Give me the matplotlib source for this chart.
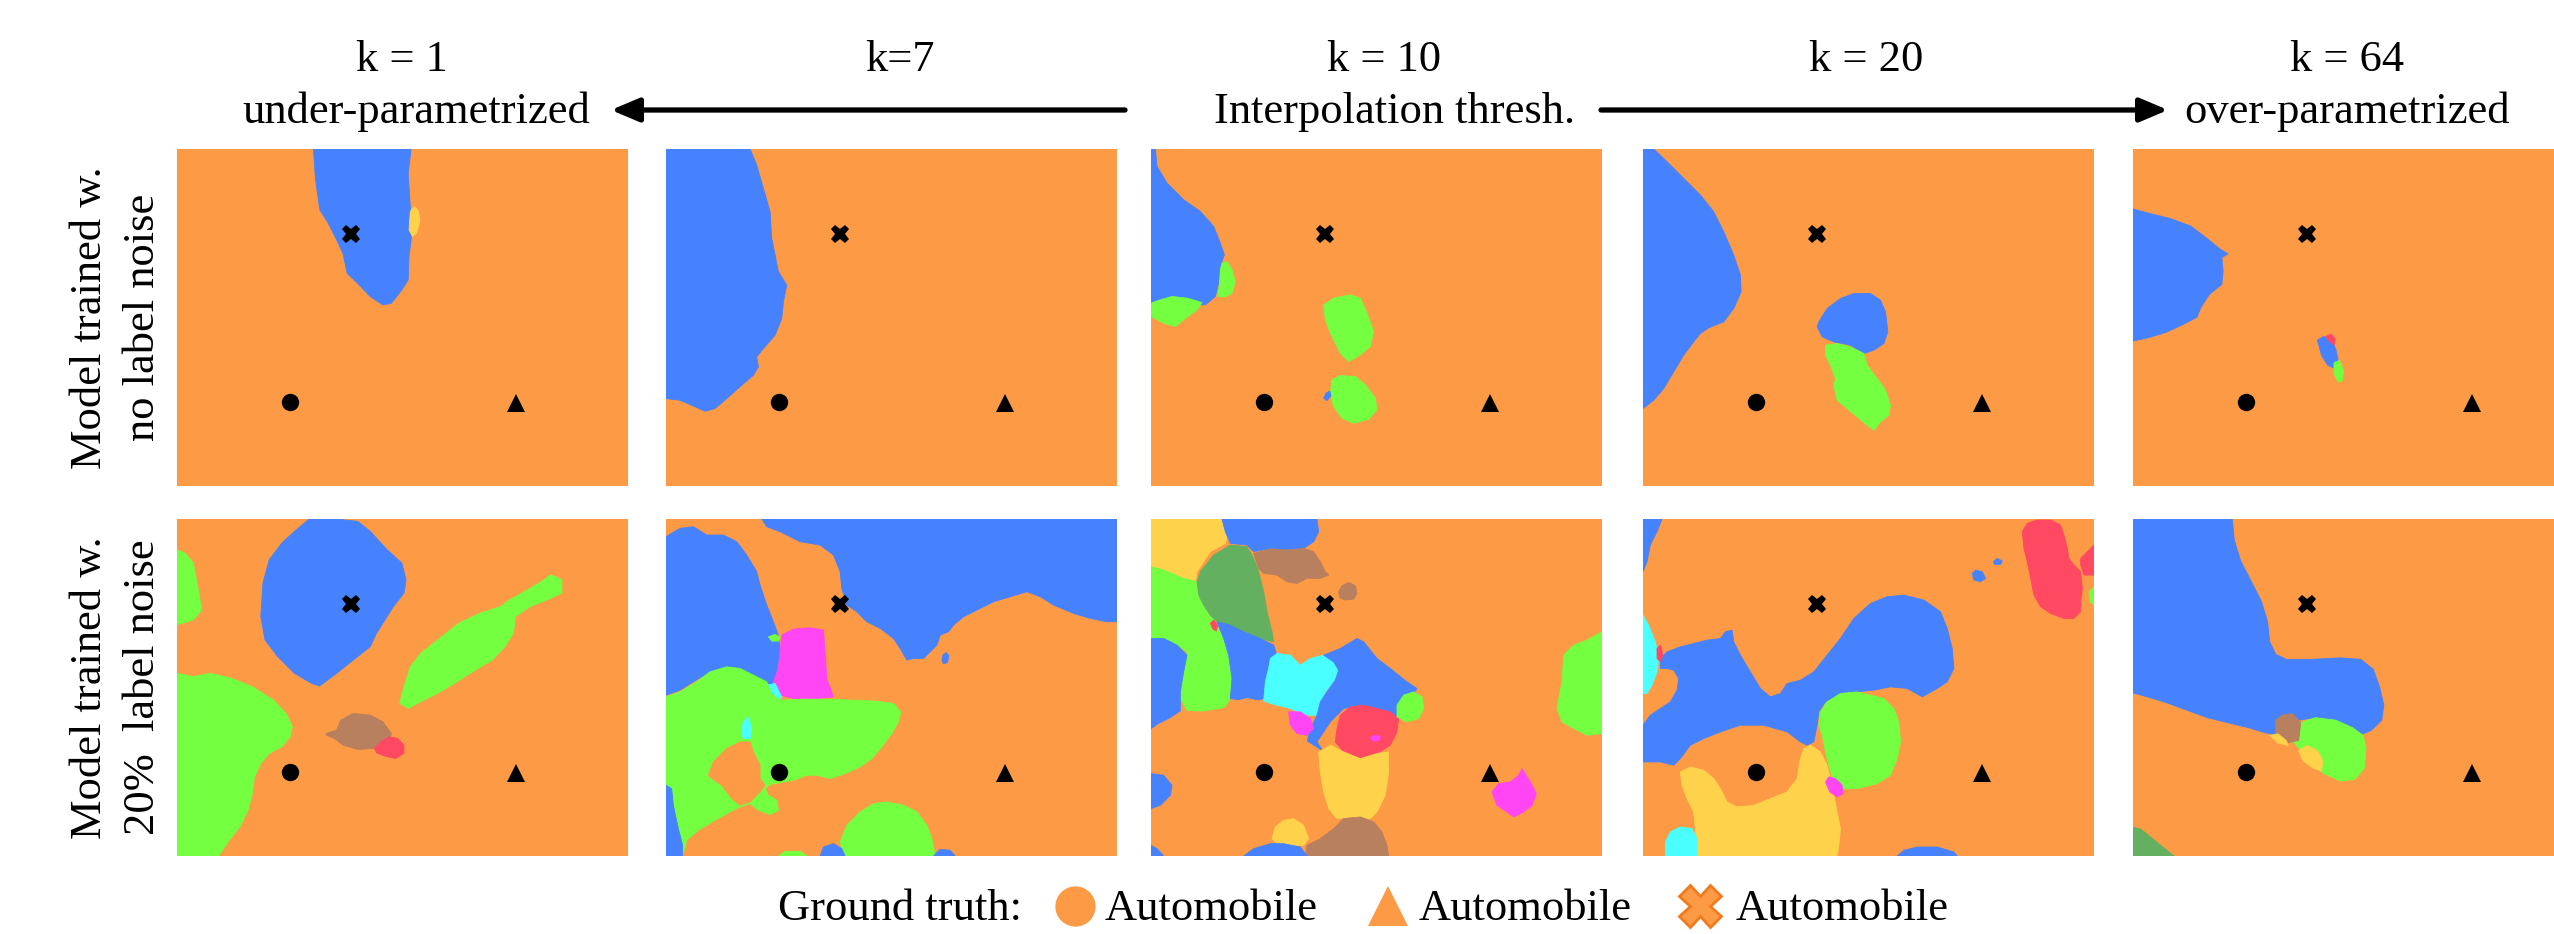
import matplotlib
matplotlib.use("Agg")
import matplotlib.pyplot as plt

# ---------------------------------------------------------------- data
COL_TITLES = ["k = 1", "k=7", "k = 10", "k = 20", "k = 64"]
REGIME_LABELS = ["under-parametrized", "Interpolation thresh.", "over-parametrized"]
ROW_LABELS = [("Model trained w.", "no label noise"), ("Model trained w.", "20%  label noise")]
LEGEND_TITLE = "Ground truth:"
LEGEND_LABELS = ["Automobile", "Automobile", "Automobile"]

PALETTE = {
    "orange": "#FD9A46", "blue": "#4682FE", "green": "#74FF41", "brown": "#B8805E",
    "red": "#FF4862", "magenta": "#FF45F4", "cyan": "#4AFFFF", "yellow": "#FFD24B",
    "dkgreen": "#63B060",
}

# data points (fraction of each panel, measured from top-left)
POINT_CIRCLE = (0.251, 0.752)
POINT_TRIANGLE = (0.751, 0.755)
POINT_CROSS = (0.386, 0.253)

# decision regions of each panel, in the reference image pixel frame of that panel
FRAME_K1_CLEAN = (421, 1492, 28, 1037)
K1_CLEAN = [
    ("blue", [(745, 28), (750, 120), (760, 210), (780, 250), (800, 300), (815, 340), (825, 400), (850, 430),
              (880, 470), (910, 495), (930, 490), (955, 450), (970, 420), (972, 350), (978, 290), (975, 200),
              (970, 100), (977, 28)]),
    ("yellow", [(975, 215), (985, 200), (995, 215), (998, 245), (990, 280), (980, 290), (972, 270)]),
]

FRAME_K7_CLEAN = (18, 1370, 12, 1022)
K7_CLEAN = [
    ("blue", [(18, 12), (270, 12), (290, 60), (310, 130), (330, 200), (335, 280), (345, 330), (355, 380),
              (380, 420), (370, 470), (365, 520), (345, 570), (310, 610), (290, 635), (295, 665), (280, 690),
              (245, 720), (200, 760), (165, 790), (135, 798), (95, 780), (60, 765), (18, 760)]),
]

FRAME_K10_CLEAN = (12, 1365, 18, 1028)
K10_CLEAN = [
    ("blue", [(12, 18), (25, 18), (30, 70), (60, 120), (110, 170), (160, 205), (200, 250), (220, 300),
              (232, 335), (220, 370), (215, 420), (205, 460), (175, 485), (12, 485)]),
    ("green", [(225, 360), (240, 355), (255, 380), (265, 415), (255, 450), (235, 462), (212, 460), (218, 420),
               (220, 380)]),
    ("green", [(12, 480), (40, 470), (75, 460), (120, 465), (165, 478), (150, 500), (110, 530), (85, 550),
               (50, 540), (12, 520)]),
    ("green", [(530, 485), (560, 465), (610, 455), (640, 465), (660, 510), (680, 565), (670, 610), (640, 635),
               (605, 655), (580, 630), (550, 570), (535, 530)]),
    ("green", [(555, 710), (580, 697), (625, 700), (655, 725), (685, 765), (690, 800), (665, 828), (620, 840),
               (585, 825), (560, 790), (550, 750)]),
    ("blue", [(530, 765), (537, 750), (548, 743), (552, 758), (540, 772)]),
]

FRAME_K20_CLEAN = (18, 1370, 12, 1022)
K20_CLEAN = [
    ("blue", [(18, 12), (50, 12), (90, 50), (140, 100), (190, 150), (230, 200), (260, 260), (290, 330),
              (310, 390), (312, 440), (290, 490), (260, 530), (215, 548), (190, 565), (170, 590), (140, 630),
              (110, 680), (80, 730), (50, 765), (18, 790)]),
    ("blue", [(545, 530), (570, 490), (610, 460), (650, 445), (700, 445), (730, 465), (745, 500), (752, 560),
              (740, 595), (710, 615), (680, 625), (640, 600), (590, 590), (555, 575), (540, 545)]),
    ("green", [(565, 600), (600, 595), (640, 605), (680, 625), (690, 660), (720, 700), (745, 735), (760, 780),
               (755, 810), (730, 830), (710, 855), (690, 840), (660, 815), (630, 790), (600, 765), (590, 720),
               (595, 700), (580, 660), (565, 630)]),
]

FRAME_K64_CLEAN = (561, 1647, 18, 683)
K64_CLEAN = [
    ("blue", [(556, 135), (600, 145), (650, 155), (700, 170), (740, 195), (770, 215), (790, 225), (775, 232),
              (778, 260), (775, 285), (745, 305), (725, 330), (715, 350), (680, 365), (640, 380), (600, 390),
              (556, 398)]),
    ("blue", [(1005, 395), (1020, 388), (1040, 395), (1050, 415), (1055, 435), (1045, 450), (1030, 445),
              (1015, 425)]),
    ("red", [(1025, 388), (1038, 383), (1048, 393), (1046, 405), (1032, 396)]),
    ("green", [(1045, 440), (1058, 435), (1068, 455), (1065, 475), (1055, 478), (1045, 462)]),
]

FRAME_K1_NOISY = (421, 1492, 58, 1067)
K1_NOISY = [
    ("blue", [(735, 58), (800, 58), (850, 65), (880, 95), (920, 150), (955, 190), (965, 240), (960, 280),
              (935, 320), (915, 360), (895, 400), (880, 440), (840, 480), (800, 520), (760, 558), (740, 550),
              (700, 520), (660, 470), (630, 420), (620, 350), (625, 250), (640, 180), (670, 130), (700, 95)]),
    ("green", [(421, 150), (440, 160), (460, 190), (470, 260), (480, 330), (460, 360), (421, 375)]),
    ("green", [(421, 520), (460, 530), (500, 520), (550, 535), (600, 560), (650, 600), (680, 640), (695, 680),
               (690, 710), (670, 740), (640, 760), (620, 790), (605, 830), (600, 880), (590, 930), (570, 980),
               (545, 1020), (520, 1067), (421, 1067)]),
    ("green", [(950, 610), (960, 560), (975, 500), (1000, 460), (1050, 410), (1090, 370), (1140, 340),
               (1190, 320), (1210, 300), (1240, 280), (1280, 250), (1310, 225), (1335, 240), (1335, 280),
               (1300, 300), (1260, 320), (1225, 350), (1220, 400), (1200, 440), (1170, 480), (1130, 510),
               (1080, 550), (1040, 580), (1000, 605), (970, 625)]),
    ("brown", [(775, 700), (800, 690), (810, 660), (840, 640), (880, 645), (910, 665), (930, 700), (925, 730),
               (890, 745), (850, 748), (815, 735), (795, 715), (775, 705)]),
    ("red", [(890, 745), (905, 725), (925, 710), (945, 715), (960, 735), (960, 760), (940, 775), (915, 768),
             (895, 758)]),
]

FRAME_K7_NOISY = (18, 1370, 22, 1032)
K7_NOISY = [
    ("blue", [(305, 22), (1370, 22), (1370, 330), (1340, 330), (1290, 320), (1240, 305), (1180, 280),
              (1140, 255), (1100, 240), (1050, 255), (1000, 270), (960, 290), (910, 315), (880, 340), (865, 360),
              (840, 370), (830, 400), (810, 420), (790, 440), (760, 440), (740, 445), (720, 410), (700, 380),
              (660, 350), (620, 330), (590, 300), (560, 280), (545, 230), (540, 180), (520, 130), (480, 100),
              (420, 90), (360, 60), (320, 45)]),
    ("blue", [(848, 430), (858, 422), (866, 432), (862, 452), (850, 456), (845, 445)]),
    ("blue", [(18, 75), (60, 50), (100, 45), (140, 70), (190, 70), (230, 90), (260, 130), (290, 180),
              (300, 220), (320, 280), (340, 330), (355, 370), (360, 420), (350, 480), (340, 520), (350, 560),
              (320, 560), (280, 520), (240, 500), (200, 470), (150, 480), (100, 510), (60, 535), (18, 550)]),
    ("magenta", [(365, 370), (400, 352), (450, 348), (490, 355), (495, 420), (500, 500), (520, 555), (470, 560),
                 (400, 560), (345, 545), (340, 510), (355, 470), (360, 420)]),
    ("green", [(325, 375), (345, 368), (360, 375), (355, 388), (335, 388)]),
    ("cyan", [(320, 520), (345, 515), (365, 555), (350, 580), (320, 580), (315, 550)]),
    ("green", [(18, 555), (60, 540), (110, 510), (150, 480), (200, 465), (240, 470), (280, 490), (320, 510),
               (335, 545), (360, 565), (420, 562), (500, 562), (580, 565), (650, 568), (700, 575), (722, 600),
               (715, 630), (695, 665), (665, 705), (635, 740), (600, 765), (555, 785), (510, 800), (470, 790),
               (440, 790), (400, 805), (360, 812), (330, 818), (315, 830), (325, 850), (350, 865), (355, 895),
               (330, 908), (295, 895), (270, 875), (240, 885), (210, 900), (165, 925), (115, 955), (80, 985),
               (68, 1032), (18, 1032)]),
    ("cyan", [(250, 630), (265, 615), (275, 650), (270, 680), (250, 680), (245, 655)]),
    ("orange", [(145, 790), (160, 750), (200, 710), (240, 690), (270, 690), (280, 720), (300, 760), (300, 800),
                (315, 820), (300, 840), (270, 870), (240, 880), (215, 860), (185, 820), (155, 800)]),
    ("blue", [(18, 820), (35, 830), (40, 880), (55, 950), (68, 1000), (68, 1032), (18, 1032)]),
    ("green", [(540, 990), (560, 940), (600, 900), (640, 875), (680, 870), (730, 880), (770, 900), (800, 940),
               (815, 980), (825, 1032), (555, 1032), (545, 1010)]),
    ("blue", [(480, 1032), (490, 1005), (520, 995), (545, 1010), (555, 1032)]),
    ("blue", [(820, 1032), (840, 1012), (870, 1015), (885, 1032)]),
    ("green", [(355, 1032), (375, 1018), (420, 1018), (440, 1032)]),
]

FRAME_K10_NOISY = (22, 1375, 22, 1032)
K10_NOISY = [
    ("yellow", [(22, 22), (245, 22), (255, 60), (245, 95), (200, 120), (160, 180), (155, 210), (120, 200),
                (60, 175), (22, 165)]),
    ("blue", [(235, 22), (520, 22), (525, 60), (510, 90), (480, 110), (420, 115), (380, 110), (330, 120),
              (310, 100), (260, 95), (245, 60)]),
    ("green", [(22, 165), (60, 175), (120, 200), (160, 210), (170, 260), (190, 300), (215, 330), (240, 380),
               (255, 430), (265, 500), (260, 560), (240, 590), (180, 600), (130, 595), (110, 560), (115, 500),
               (125, 460), (130, 420), (100, 400), (60, 380), (22, 380)]),
    ("dkgreen", [(160, 210), (170, 180), (210, 130), (260, 100), (310, 105), (330, 140), (345, 180), (360, 240),
                 (370, 300), (385, 360), (390, 390), (350, 380), (300, 360), (250, 340), (220, 330), (200, 310),
                 (180, 280), (165, 250)]),
    ("brown", [(330, 125), (380, 112), (430, 115), (480, 110), (510, 120), (530, 150), (545, 180), (555, 190),
               (530, 200), (490, 200), (460, 215), (430, 210), (400, 190), (360, 185), (345, 170)]),
    ("brown", [(585, 240), (595, 222), (615, 212), (635, 222), (640, 245), (630, 262), (605, 265), (588, 258)]),
    ("blue", [(22, 380), (60, 380), (100, 400), (130, 430), (120, 480), (110, 540), (110, 600), (80, 620),
              (40, 640), (22, 650)]),
    ("blue", [(220, 330), (260, 340), (300, 360), (350, 380), (390, 400), (400, 430), (380, 450), (370, 500),
              (360, 560), (330, 570), (290, 565), (260, 560), (265, 500), (255, 430), (240, 380)]),
    ("red", [(200, 335), (210, 325), (222, 340), (218, 358), (208, 352)]),
    ("cyan", [(380, 440), (400, 425), (440, 430), (470, 460), (500, 440), (540, 430), (570, 450), (585, 480),
              (570, 510), (545, 540), (530, 580), (520, 610), (490, 610), (440, 590), (400, 580), (360, 570),
              (365, 510), (375, 470)]),
    ("blue", [(540, 430), (590, 410), (640, 380), (660, 390), (700, 440), (740, 470), (790, 510), (820, 530),
              (800, 560), (770, 600), (760, 615), (700, 600), (650, 580), (600, 590), (560, 630), (540, 660),
              (520, 690), (540, 720), (510, 720), (490, 690), (500, 650), (520, 610), (530, 570), (550, 540),
              (575, 505), (585, 475), (570, 450)]),
    ("orange", [(22, 660), (40, 640), (80, 620), (110, 600), (180, 600), (240, 590), (270, 570), (310, 560),
                (360, 570), (400, 585), (440, 595), (470, 650), (490, 690), (530, 715), (520, 760), (520, 820),
                (535, 880), (560, 920), (520, 950), (490, 980), (470, 1000), (440, 1000), (400, 990), (360, 1000),
                (310, 1010), (290, 1032), (22, 1032)]),
    ("blue", [(22, 785), (60, 790), (85, 820), (80, 850), (50, 880), (22, 890)]),
    ("magenta", [(435, 600), (470, 600), (500, 620), (510, 650), (490, 670), (460, 665), (440, 640)]),
    ("red", [(590, 610), (620, 585), (660, 580), (700, 590), (740, 600), (765, 620), (760, 660), (740, 700),
             (700, 725), (650, 740), (600, 720), (575, 690), (580, 650)]),
    ("magenta", [(680, 678), (692, 670), (710, 674), (708, 686), (690, 688)]),
    ("green", [(760, 580), (780, 550), (810, 540), (835, 555), (840, 590), (825, 620), (790, 630), (760, 615)]),
    ("yellow", [(525, 720), (560, 700), (600, 720), (650, 740), (700, 725), (735, 720), (735, 780), (725, 850),
                (700, 900), (680, 920), (620, 915), (580, 920), (555, 890), (540, 840), (530, 780)]),
    ("brown", [(490, 1000), (530, 980), (570, 950), (600, 920), (650, 915), (690, 930), (715, 960), (730, 1000),
               (735, 1032), (485, 1032)]),
    ("yellow", [(385, 980), (395, 945), (420, 925), (450, 920), (480, 940), (495, 980), (480, 1000), (440, 1000),
                (400, 995)]),
    ("blue", [(300, 1032), (330, 1010), (380, 995), (420, 995), (470, 1005), (490, 1032)]),
    ("green", [(1240, 590), (1255, 510), (1260, 430), (1290, 400), (1330, 385), (1375, 360), (1375, 665),
               (1330, 670), (1290, 650), (1255, 630)]),
    ("magenta", [(1045, 840), (1065, 815), (1100, 810), (1125, 790), (1135, 770), (1160, 810), (1178, 845),
                 (1165, 880), (1140, 900), (1110, 915), (1090, 900), (1060, 880)]),
    ("blue", [(22, 1000), (40, 1010), (60, 1032), (22, 1032)]),
]

FRAME_K20_NOISY = (18, 1370, 22, 1032)
K20_NOISY = [
    ("blue", [(18, 22), (75, 22), (60, 60), (40, 100), (30, 150), (18, 180)]),
    ("blue", [(70, 440), (90, 420), (130, 405), (170, 395), (210, 385), (250, 380), (265, 360), (285, 355),
              (290, 390), (310, 430), (340, 480), (370, 530), (400, 555), (430, 545), (450, 515), (490, 505),
              (530, 480), (570, 430), (610, 380), (650, 320), (700, 275), (750, 255), (800, 250), (860, 265),
              (910, 300), (930, 350), (945, 410), (950, 470), (930, 510), (900, 530), (855, 555), (810, 530),
              (760, 525), (710, 535), (660, 540), (610, 545), (565, 570), (545, 600), (540, 640), (530, 690),
              (510, 700), (490, 690), (450, 660), (380, 640), (310, 640), (250, 660), (200, 680), (160, 700),
              (130, 740), (110, 760), (70, 750), (18, 750), (18, 640), (40, 610), (70, 590), (100, 570),
              (120, 535), (125, 500), (110, 475), (90, 470), (70, 470)]),
    ("cyan", [(18, 310), (35, 340), (55, 390), (65, 440), (60, 480), (45, 520), (30, 545), (18, 545)]),
    ("red", [(60, 410), (70, 400), (78, 430), (70, 450), (60, 440)]),
    ("green", [(550, 600), (570, 570), (610, 545), (660, 540), (700, 550), (740, 560), (770, 590), (785, 630),
               (790, 690), (780, 740), (760, 790), (720, 815), (660, 830), (620, 830), (590, 810), (575, 760),
               (565, 720), (555, 670), (545, 640)]),
    ("yellow", [(130, 780), (160, 765), (200, 775), (230, 800), (250, 830), (270, 870), (300, 885), (350, 880),
                (400, 860), (450, 840), (480, 800), (490, 740), (500, 710), (520, 700), (550, 720), (570, 760),
                (580, 800), (590, 850), (600, 900), (610, 950), (605, 1000), (600, 1032), (180, 1032),
                (175, 950), (170, 900), (150, 860), (135, 820)]),
    ("cyan", [(85, 990), (100, 960), (130, 945), (165, 950), (180, 980), (180, 1032), (85, 1032)]),
    ("magenta", [(565, 810), (575, 795), (595, 800), (615, 820), (618, 845), (600, 855), (578, 840)]),
    ("blue", [(780, 1032), (800, 1015), (840, 1005), (900, 1005), (950, 1020), (960, 1032)]),
    ("red", [(1155, 60), (1170, 35), (1200, 25), (1240, 25), (1270, 40), (1280, 70), (1290, 110), (1295, 140),
             (1310, 160), (1330, 180), (1335, 230), (1330, 270), (1330, 300), (1310, 320), (1280, 320),
             (1240, 305), (1210, 285), (1190, 250), (1180, 200), (1170, 150), (1160, 110)]),
    ("red", [(1330, 140), (1350, 120), (1370, 100), (1370, 190), (1340, 190), (1330, 160)]),
    ("green", [(1355, 240), (1370, 225), (1370, 280), (1358, 270)]),
    ("blue", [(1005, 185), (1015, 175), (1035, 180), (1045, 200), (1030, 210), (1010, 205)]),
    ("blue", [(1068, 150), (1080, 140), (1095, 148), (1090, 158), (1072, 158)]),
]

FRAME_K64_NOISY = (561, 1647, 748, 1413)
K64_NOISY = [
    ("yellow", [(680, 748), (700, 748), (695, 752), (685, 752)]),
    ("blue", [(556, 748), (800, 748), (805, 790), (820, 830), (845, 870), (870, 910), (885, 950), (890, 990),
              (905, 1015), (930, 1025), (990, 1025), (1060, 1022), (1110, 1025), (1140, 1045), (1155, 1080),
              (1165, 1115), (1160, 1145), (1135, 1165), (1115, 1172), (1090, 1165), (1050, 1150), (1000, 1140),
              (960, 1145), (935, 1160), (910, 1175), (880, 1170), (840, 1160), (790, 1150), (740, 1140),
              (690, 1125), (640, 1110), (600, 1100), (556, 1090)]),
    ("green", [(945, 1185), (965, 1150), (1000, 1140), (1050, 1145), (1090, 1160), (1115, 1175), (1122, 1200),
               (1118, 1240), (1095, 1262), (1060, 1265), (1020, 1250), (990, 1230), (965, 1205)]),
    ("brown", [(905, 1145), (920, 1135), (945, 1132), (965, 1150), (960, 1185), (930, 1190), (905, 1172)]),
    ("yellow", [(960, 1205), (980, 1195), (1005, 1205), (1018, 1225), (1015, 1245), (995, 1240), (970, 1225)]),
    ("yellow", [(890, 1175), (910, 1172), (930, 1185), (935, 1195), (910, 1190)]),
    ("dkgreen", [(556, 1355), (580, 1360), (610, 1380), (640, 1400), (660, 1413), (556, 1413)]),
]

PANELS = [
    [(FRAME_K1_CLEAN, K1_CLEAN), (FRAME_K7_CLEAN, K7_CLEAN), (FRAME_K10_CLEAN, K10_CLEAN),
     (FRAME_K20_CLEAN, K20_CLEAN), (FRAME_K64_CLEAN, K64_CLEAN)],
    [(FRAME_K1_NOISY, K1_NOISY), (FRAME_K7_NOISY, K7_NOISY), (FRAME_K10_NOISY, K10_NOISY),
     (FRAME_K20_NOISY, K20_NOISY), (FRAME_K64_NOISY, K64_NOISY)],
]

# ---------------------------------------------------------------- layout (reference pixels)
W, H = 2554, 934
COL_X = [177, 666, 1151, 1643, 2133]
ROW_Y = [149, 519]
PW, PH = 451, 337
FONT = "Liberation Serif"
FS = 32

fig = plt.figure(figsize=(W / 100, H / 100), dpi=100)
fig.patch.set_facecolor("white")

canvas = fig.add_axes([0, 0, 1, 1])
canvas.set_xlim(0, W)
canvas.set_ylim(H, 0)
canvas.axis("off")

# column titles
title_x = [402, 900, 1384, 1866, 2347]
for x, t in zip(title_x, COL_TITLES):
    canvas.text(x, 71, t, ha="center", va="baseline", fontsize=FS, family=FONT)
regime_x = [416, 1394, 2347]
for x, t in zip(regime_x, REGIME_LABELS):
    canvas.text(x, 123, t, ha="center", va="baseline", fontsize=FS, family=FONT)

arrow_style = dict(arrowstyle="-|>,head_length=0.85,head_width=0.36", lw=3.8, color="black",
                   mutation_scale=20, shrinkA=0, shrinkB=0)
canvas.annotate("", xy=(611, 110), xytext=(1125, 110), arrowprops=arrow_style)
canvas.annotate("", xy=(2168, 110), xytext=(1601, 110), arrowprops=arrow_style)

# row labels
for r, (l1, l2) in enumerate(ROW_LABELS):
    yc = ROW_Y[r] + PH / 2
    canvas.text(101, yc, l1, rotation=90, rotation_mode="anchor", ha="center", va="baseline",
                fontsize=FS, family=FONT)
    canvas.text(154, yc, l2, rotation=90, rotation_mode="anchor", ha="center", va="baseline",
                fontsize=FS, family=FONT)

# panels
for r, row in enumerate(PANELS):
    for c, (frame, regions) in enumerate(row):
        x0, x1, y0, y1 = frame
        ax = fig.add_axes([COL_X[c] / W, 1 - (ROW_Y[r] + PH) / H, PW / W, PH / H])
        ax.set_xlim(x0, x1)
        ax.set_ylim(y1, y0)
        ax.set_facecolor(PALETTE["orange"])
        ax.set_xticks([])
        ax.set_yticks([])
        for s in ax.spines.values():
            s.set_visible(False)
        for color, pts in regions:
            xs = [p[0] for p in pts]
            ys = [p[1] for p in pts]
            ax.fill(xs, ys, color=PALETTE[color], lw=0.6, ec=PALETTE[color])

        def fx(f):
            return x0 + f[0] * (x1 - x0), y0 + f[1] * (y1 - y0)

        cx, cy = fx(POINT_CIRCLE)
        ax.plot(cx, cy, marker="o", ms=12.5, color="black", mew=0)
        tx, ty = fx(POINT_TRIANGLE)
        ax.plot(tx, ty, marker="^", ms=12.5, color="black", mew=0)
        xx, xy_ = fx(POINT_CROSS)
        ax.plot(xx, xy_, marker="X", ms=13, color="black", mew=0)

# legend
LEG_Y = 906
canvas.text(778, 920, LEGEND_TITLE, ha="left", va="baseline", fontsize=FS, family=FONT)
leg_markers = [("o", 1075, 1105), ("^", 1388, 1419), ("X", 1700, 1736)]
for (m, mx, tx), lab in zip(leg_markers, LEGEND_LABELS):
    if m == "X":
        canvas.plot(mx, LEG_Y, marker=m, ms=30, color=PALETTE["orange"], mec="#F07A1C", mew=2)
    else:
        canvas.plot(mx, LEG_Y, marker=m, ms=29, color=PALETTE["orange"], mew=0)
    canvas.text(tx, 920, lab, ha="left", va="baseline", fontsize=FS, family=FONT)

fig.savefig("out.png", dpi=100, facecolor="white")
